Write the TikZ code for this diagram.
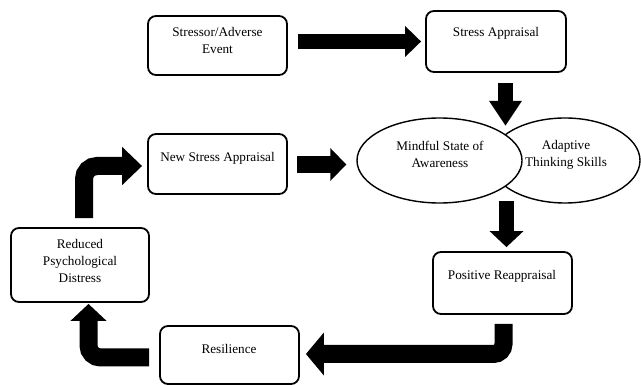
\documentclass[tikz,border=0pt]{standalone}
\usepackage{fontspec}
\setmainfont{Liberation Serif}
\usetikzlibrary{arrows.meta,shapes.geometric,calc}
\begin{document}
\begin{tikzpicture}[x=1pt,y=-1pt,
  box/.style={draw, line width=1.8pt, rounded corners=8pt, inner sep=0pt, fill=white},
  txt/.style={font=\fontsize{13.2}{17}\selectfont, align=center, inner sep=0pt},
  ell/.style={draw, ellipse, line width=1.4pt, fill=white, inner sep=0pt},
  blk/.style={draw=black, line width=#1},
  bend/.style={draw=black, line width=#1, rounded corners=12pt},
]
\useasboundingbox (0,0) rectangle (641,385);

% boxes
\node[box, minimum width=139pt, minimum height=59pt] (stressor) at (217.5,45.5) {};
\node[box, minimum width=140pt, minimum height=61pt] (stress) at (496,41.5) {};
\node[box, minimum width=139pt, minimum height=60pt] (newstress) at (217.5,164) {};
\node[box, minimum width=139pt, minimum height=62pt] (positive) at (502.5,283) {};
\node[box, minimum width=139pt, minimum height=58pt] (resilience) at (229.5,355) {};
\node[box, minimum width=138pt, minimum height=74pt] (reduced) at (80,265) {};

% ellipses
\node[ell, minimum width=150pt, minimum height=85pt] (adaptive) at (565,160.5) {};
\node[ell, minimum width=165pt, minimum height=85pt] (mindful) at (439.5,160.5) {};

% texts
\node[txt] (tstressor) at (217.5,40) {Stressor/Adverse\\Event};
\node[txt] (tstress) at (496,33) {Stress Appraisal};
\node[txt] (tnewstress) at (217.5,158) {New Stress Appraisal};
\node[txt] (tmindful) at (440,154.5) {Mindful State of\\Awareness};
\node[txt] (tadaptive) at (566,154.5) {Adaptive\\Thinking Skills};
\node[txt] (tpositive) at (502,276) {Positive Reappraisal};
\node[txt] (tresilience) at (229,349) {Resilience};
\node[txt] (treduced) at (80,260.5) {Reduced\\Psychological\\Distress};

% straight block arrows
\draw[blk=15pt, -{Triangle[length=16pt,width=30pt]}]
  ($(stressor.east |- stress.west)+(10,0)$) -- ($(stress.west)+(-4,0)$);
\coordinate (meet) at ($(stress.south)+(9.5,53)$);
\draw[blk=15pt, -{Triangle[length=25pt,width=31pt]}]
  ($(stress.south)+(9.5,10)$) -- (meet);
\coordinate (split) at ($(positive.north)+(4,-50)$);
\draw[blk=15pt, -{Triangle[length=16pt,width=33pt]}]
  (split) -- ($(positive.north)+(4,-4)$);
\draw[blk=17pt, -{Triangle[length=16pt,width=32pt]}]
  ($(newstress.east)+(9,0.5)$) -- ($(mindful.west |- newstress.east)+(-10,0.5)$);

% bent block arrows
\draw[bend=18pt, rounded corners=10pt, -{Triangle[length=18pt,width=42pt]}]
  ($(positive.south)+(1,9)$) |- ($(resilience.east)+(6,-1)$);
\draw[bend=18pt, -{Triangle[length=17pt,width=35pt]}]
  ($(resilience.west)+(-10,2.5)$) -| ($(reduced.south)+(8.5,1)$);
\draw[bend=18pt, rounded corners=13pt, -{Triangle[length=20pt,width=37pt]}]
  ($(reduced.north)+(4,-9)$) |- ($(newstress.west)+(-5,2)$);
\end{tikzpicture}
\end{document}
